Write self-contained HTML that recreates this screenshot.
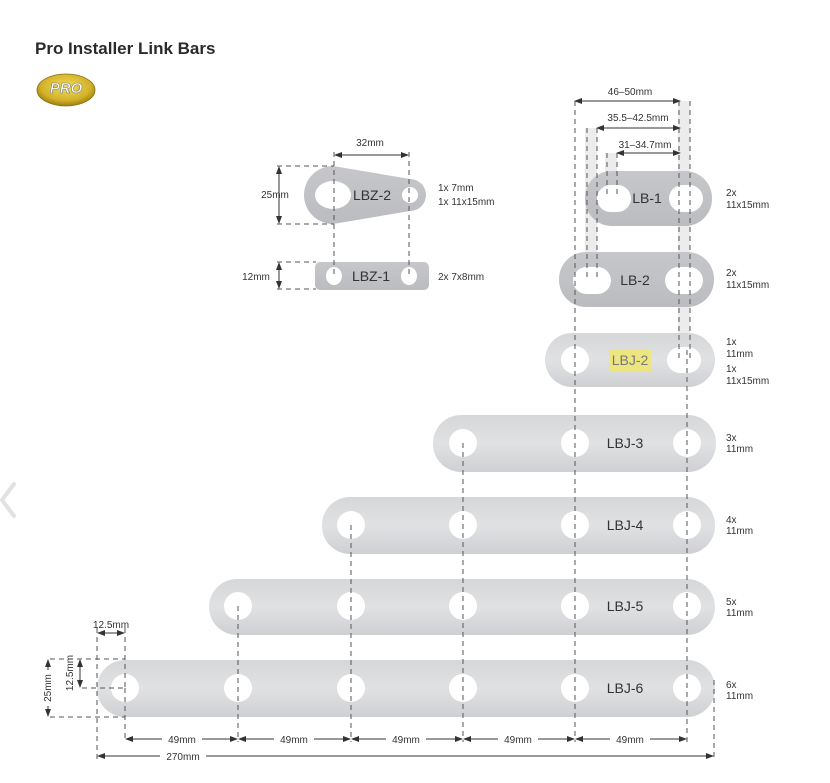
<!DOCTYPE html>
<html><head><meta charset="utf-8"><style>
html,body{margin:0;padding:0;background:#fff;}
svg{display:block;font-family:"Liberation Sans",Arial,sans-serif;}
</style></head><body>
<svg width="830" height="783" viewBox="0 0 830 783" xmlns="http://www.w3.org/2000/svg">
<defs>
<linearGradient id="bar" x1="0" y1="0" x2="0" y2="1">
<stop offset="0" stop-color="#d6d7d9"/><stop offset="0.5" stop-color="#e0e1e3"/><stop offset="1" stop-color="#cfd0d3"/></linearGradient>
<linearGradient id="bar2" x1="0" y1="0" x2="0" y2="1">
<stop offset="0" stop-color="#c6c7ca"/><stop offset="1" stop-color="#bbbcbf"/></linearGradient>
<radialGradient id="gold" cx="0.5" cy="0.4" r="0.6"><stop offset="0" stop-color="#f2dc5a"/><stop offset="0.7" stop-color="#d4b22a"/><stop offset="1" stop-color="#9c7f10"/></radialGradient>
<marker id="ar" markerWidth="8" markerHeight="6" refX="7" refY="3" orient="auto-start-reverse" markerUnits="userSpaceOnUse"><path d="M0,0 L8,3 L0,6z" fill="#333"/></marker>
</defs>

<text x="35" y="54" font-size="17" font-weight="bold" fill="#2a2a2a">Pro Installer Link Bars</text>
<ellipse cx="66" cy="90" rx="29" ry="16" fill="url(#gold)" stroke="#8a7010" stroke-width="0.8"/>
<text x="66" y="93" font-size="15" font-weight="bold" font-style="italic" fill="#fff" stroke="#777" stroke-width="0.6" text-anchor="middle">PRO</text>

<path d="M14,484 L2,500 L14,516" fill="none" stroke="#e2e2e2" stroke-width="4" stroke-linecap="round"/>

<g fill="#ececec">
<rect x="678" y="101" width="12" height="270"/>
<rect x="585" y="128" width="12" height="158"/>
<rect x="605" y="153" width="12" height="50"/>
</g>

<g>
<rect x="97" y="660" width="618" height="57" rx="28" fill="url(#bar)"/>
<rect x="209" y="579" width="506" height="56" rx="28" fill="url(#bar)"/>
<rect x="322" y="497" width="393" height="57" rx="28" fill="url(#bar)"/>
<rect x="433" y="415" width="283" height="57" rx="28" fill="url(#bar)"/>
<rect x="545" y="333" width="170" height="54" rx="27" fill="url(#bar)"/>
<rect x="559" y="252" width="155" height="55" rx="27" fill="url(#bar2)"/>
<rect x="585" y="171" width="127" height="55" rx="27" fill="url(#bar2)"/>
<rect x="315" y="262" width="114" height="28" rx="5" fill="url(#bar2)"/>
<path d="M333,166 L410,179 A16,16 0 0 1 410,211 L333,224 A29,29 0 0 1 333,166z" fill="url(#bar2)"/>
</g>
<g fill="#fff">
<circle cx="125" cy="688" r="14"/><circle cx="238" cy="688" r="14"/><circle cx="351" cy="688" r="14"/><circle cx="463" cy="688" r="14"/><circle cx="575" cy="688" r="14"/><circle cx="687" cy="688" r="14"/>
<circle cx="238" cy="606" r="14"/><circle cx="351" cy="606" r="14"/><circle cx="463" cy="606" r="14"/><circle cx="575" cy="606" r="14"/><circle cx="687" cy="606" r="14"/>
<circle cx="351" cy="525" r="14"/><circle cx="463" cy="525" r="14"/><circle cx="575" cy="525" r="14"/><circle cx="687" cy="525" r="14"/>
<circle cx="463" cy="443" r="14"/><circle cx="575" cy="443" r="14"/><circle cx="687" cy="443" r="14"/>
<circle cx="575" cy="360" r="14"/><rect x="667" y="347" width="34" height="26" rx="13"/>
<rect x="573" y="267" width="38" height="27" rx="13.5"/><rect x="665" y="267" width="38" height="27" rx="13.5"/>
<rect x="597" y="185" width="34" height="27" rx="13.5"/><rect x="669" y="185" width="34" height="27" rx="13.5"/>
<ellipse cx="333" cy="195" rx="18" ry="14"/><circle cx="410" cy="195" r="8"/>
<ellipse cx="334" cy="276" rx="8" ry="9"/><ellipse cx="409" cy="276" rx="8" ry="9"/>
</g>
<rect x="609" y="350" width="42" height="21" fill="#ede680"/>

<g stroke="#555" stroke-width="1" stroke-dasharray="5,4" fill="none">
<line x1="125" y1="688" x2="125" y2="742"/>
<line x1="238" y1="606" x2="238" y2="742"/>
<line x1="351" y1="525" x2="351" y2="742"/>
<line x1="463" y1="443" x2="463" y2="742"/>
<line x1="575" y1="101" x2="575" y2="742"/>
<line x1="687" y1="350" x2="687" y2="742"/>
<line x1="679" y1="101" x2="679" y2="360"/>
<line x1="690" y1="101" x2="690" y2="360"/>
<line x1="587" y1="128" x2="587" y2="280"/>
<line x1="597" y1="128" x2="597" y2="280"/>
<line x1="607" y1="153" x2="607" y2="198"/>
<line x1="617" y1="153" x2="617" y2="198"/>
<line x1="714" y1="680" x2="714" y2="760"/>
<line x1="97" y1="628" x2="97" y2="760"/>
<line x1="125" y1="628" x2="125" y2="688"/>
<line x1="50" y1="659" x2="125" y2="659"/>
<line x1="50" y1="717" x2="125" y2="717"/>
<line x1="82" y1="688" x2="125" y2="688"/>
<line x1="334" y1="152" x2="334" y2="276"/>
<line x1="409" y1="152" x2="409" y2="276"/>
<line x1="277" y1="166" x2="334" y2="166"/>
<line x1="277" y1="224" x2="334" y2="224"/>
<line x1="277" y1="262" x2="316" y2="262"/>
<line x1="277" y1="289" x2="316" y2="289"/>
</g>

<g stroke="#333" stroke-width="1" fill="none" marker-start="url(#ar)" marker-end="url(#ar)">
<line x1="575" y1="101" x2="680" y2="101"/>
<line x1="597" y1="128" x2="680" y2="128"/>
<line x1="617" y1="153" x2="680" y2="153"/>
<line x1="335" y1="155" x2="408" y2="155"/>
<line x1="279" y1="167" x2="279" y2="223"/>
<line x1="279" y1="263" x2="279" y2="288"/>
<line x1="98" y1="633" x2="124" y2="633"/>
<line x1="80" y1="660" x2="80" y2="687"/>
<line x1="48" y1="660" x2="48" y2="716"/>
</g>
<g stroke="#333" stroke-width="1" marker-start="url(#ar)" marker-end="url(#ar)">
<line x1="126" y1="739" x2="237" y2="739"/>
<line x1="239" y1="739" x2="350" y2="739"/>
<line x1="352" y1="739" x2="462" y2="739"/>
<line x1="464" y1="739" x2="574" y2="739"/>
<line x1="576" y1="739" x2="686" y2="739"/>
<line x1="98" y1="756" x2="713" y2="756"/>
</g>
<g fill="#fff">
<rect x="162" y="732" width="40" height="14"/><rect x="274" y="732" width="40" height="14"/><rect x="386" y="732" width="40" height="14"/><rect x="498" y="732" width="40" height="14"/><rect x="610" y="732" width="40" height="14"/>
<rect x="160" y="749" width="46" height="14"/>
<rect x="40" y="670" width="16" height="36"/>
</g>

<g font-size="10" fill="#333">
<text x="182" y="743" text-anchor="middle">49mm</text>
<text x="294" y="743" text-anchor="middle">49mm</text>
<text x="406" y="743" text-anchor="middle">49mm</text>
<text x="518" y="743" text-anchor="middle">49mm</text>
<text x="630" y="743" text-anchor="middle">49mm</text>
<text x="183" y="760" text-anchor="middle">270mm</text>
<text x="111" y="628" text-anchor="middle">12.5mm</text>
<text transform="translate(73,673) rotate(-90)" text-anchor="middle">12.5mm</text>
<text transform="translate(51,688) rotate(-90)" text-anchor="middle">25mm</text>
<text x="630" y="95" text-anchor="middle">46–50mm</text>
<text x="638" y="121" text-anchor="middle">35.5–42.5mm</text>
<text x="645" y="148" text-anchor="middle">31–34.7mm</text>
<text x="370" y="146" text-anchor="middle">32mm</text>
<text x="275" y="198" text-anchor="middle">25mm</text>
<text x="256" y="280" text-anchor="middle">12mm</text>
<text x="438" y="191">1x 7mm</text><text x="438" y="205">1x 11x15mm</text>
<text x="438" y="280">2x 7x8mm</text>
<text x="726" y="196">2x</text><text x="726" y="208">11x15mm</text>
<text x="726" y="276">2x</text><text x="726" y="288">11x15mm</text>
<text x="726" y="345">1x</text><text x="726" y="357">11mm</text>
<text x="726" y="372">1x</text><text x="726" y="384">11x15mm</text>
<text x="726" y="441">3x</text><text x="726" y="452">11mm</text>
<text x="726" y="523">4x</text><text x="726" y="534">11mm</text>
<text x="726" y="605">5x</text><text x="726" y="616">11mm</text>
<text x="726" y="688">6x</text><text x="726" y="699">11mm</text>
</g>
<g font-size="14" fill="#333">
<text x="372" y="200" text-anchor="middle">LBZ-2</text>
<text x="371" y="281" text-anchor="middle">LBZ-1</text>
<text x="647" y="203" text-anchor="middle">LB-1</text>
<text x="635" y="285" text-anchor="middle">LB-2</text>
<text x="630" y="365" text-anchor="middle" fill="#777">LBJ-2</text>
<text x="625" y="448" text-anchor="middle">LBJ-3</text>
<text x="625" y="530" text-anchor="middle">LBJ-4</text>
<text x="625" y="611" text-anchor="middle">LBJ-5</text>
<text x="625" y="693" text-anchor="middle">LBJ-6</text>
</g>
</svg>
</body></html>
